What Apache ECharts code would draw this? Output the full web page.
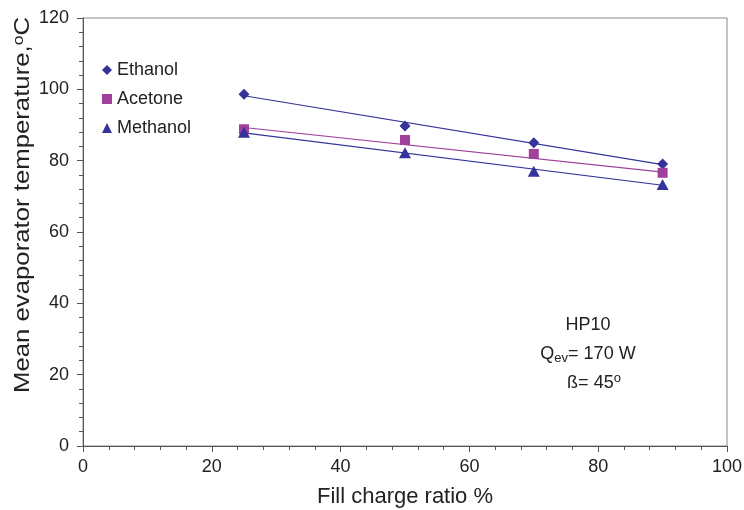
<!DOCTYPE html>
<html>
<head>
<meta charset="utf-8">
<script src="https://cdn.jsdelivr.net/npm/echarts@6/dist/echarts.min.js"></script>
<style>
  html, body { margin: 0; padding: 0; background: #fff; }
  #main { width: 744px; height: 510px; }
</style>
</head>
<body>
<div id="main"></div>
<script>
// fill charge ratio (%)
var fillRatio = [25, 50, 70, 90];
// mean evaporator temperature (°C)
var ethanol = [98.6, 89.7, 85.0, 79.1];
var acetone = [88.8, 85.8, 81.9, 76.6];
var methanol = [88.0, 82.2, 77.0, 73.3];
// trend lines, read at both ends (x = 25 and x = 90)
var trendX = [25, 90];
var ethanolTrend = [98.2, 78.9];
var acetoneTrend = [89.3, 76.8];
var methanolTrend = [87.8, 73.1];

var blue = '#333399';
var purple = '#A0409C';
var font = 'Liberation Sans, Arial, sans-serif';

function pairs(xs, ys) {
  var out = [];
  for (var i = 0; i < xs.length; i++) out.push([xs[i], ys[i]]);
  return out;
}

var chart = echarts.init(document.getElementById('main'));

var option = {
  animation: false,
  grid: {
    left: 83, right: 17, top: 18, bottom: 64,
    outerBoundsMode: 'none',
    show: true, borderColor: '#8a8a8a', borderWidth: 1
  },
  textStyle: { fontFamily: font },
  legend: {
    orient: 'vertical',
    left: 97,
    top: 56,
    itemWidth: 10,
    itemHeight: 10,
    itemGap: 11,
    textStyle: { fontSize: 18, color: '#222', fontFamily: font },
    data: ['Ethanol', 'Acetone', 'Methanol']
  },
  xAxis: {
    type: 'value',
    min: 0, max: 100, interval: 20,
    axisLine: { lineStyle: { color: '#555', width: 1 } },
    axisTick: { inside: false, length: 6, lineStyle: { color: '#555' } },
    minorTick: { show: true, splitNumber: 5, length: 4, lineStyle: { color: '#555' } },
    splitLine: { show: false },
    axisLabel: { fontSize: 18, color: '#222', margin: 12, fontFamily: font },
    name: 'Fill charge ratio %',
    nameLocation: 'middle',
    nameGap: 40,
    nameTextStyle: { fontSize: 22, color: '#222', fontFamily: font }
  },
  yAxis: {
    type: 'value',
    min: 0, max: 120, interval: 20,
    axisLine: { lineStyle: { color: '#555', width: 1 } },
    axisTick: { inside: false, length: 6, lineStyle: { color: '#555' } },
    minorTick: { show: true, splitNumber: 5, length: 4, lineStyle: { color: '#555' } },
    splitLine: { show: false },
    axisLabel: { fontSize: 18, color: '#222', margin: 14, fontFamily: font }
  },
  graphic: [
    {
      type: 'text',
      x: 23, y: 205,
      rotation: Math.PI / 2,
      scaleX: 1.17,
      style: {
        text: 'Mean evaporator temperature,{sup|o}C',
        rich: { sup: { fontSize: 15, verticalAlign: 'top', padding: [0, 0, 9, 0] } },
        font: '22px ' + font,
        fill: '#222',
        textAlign: 'center',
        textVerticalAlign: 'middle'
      }
    },
    {
      type: 'text',
      x: 588, y: 325,
      style: { text: 'HP10', font: '18px ' + font, fill: '#222', textAlign: 'center', textVerticalAlign: 'middle' }
    },
    {
      type: 'text',
      x: 588, y: 354,
      style: {
        text: 'Q{sub|ev}= 170 W',
        rich: { sub: { fontSize: 13, padding: [8, 0, 0, 0] } },
        font: '18px ' + font, fill: '#222', textAlign: 'center', textVerticalAlign: 'middle'
      }
    },
    {
      type: 'text',
      x: 594, y: 383,
      style: {
        text: 'ß= 45{sup|o}',
        rich: { sup: { fontSize: 13, padding: [0, 0, 10, 0] } },
        font: '18px ' + font, fill: '#222', textAlign: 'center', textVerticalAlign: 'middle'
      }
    }
  ],
  series: [
    { name: 'EthanolTrend', type: 'line', data: pairs(trendX, ethanolTrend), symbol: 'none', lineStyle: { color: blue, width: 1.2 }, z: 1 },
    { name: 'AcetoneTrend', type: 'line', data: pairs(trendX, acetoneTrend), symbol: 'none', lineStyle: { color: purple, width: 1.2 }, z: 1 },
    { name: 'MethanolTrend', type: 'line', data: pairs(trendX, methanolTrend), symbol: 'none', lineStyle: { color: blue, width: 1.2 }, z: 1 },
    { name: 'Ethanol', type: 'scatter', data: pairs(fillRatio, ethanol), symbol: 'diamond', symbolSize: 11, itemStyle: { color: blue, opacity: 1 }, z: 3 },
    { name: 'Acetone', type: 'scatter', data: pairs(fillRatio, acetone), symbol: 'rect', symbolSize: 10, itemStyle: { color: purple, opacity: 1 }, z: 3 },
    { name: 'Methanol', type: 'scatter', data: pairs(fillRatio, methanol), symbol: 'triangle', symbolSize: [12, 11], itemStyle: { color: blue, opacity: 1 }, z: 3 }
  ]
};

chart.setOption(option);
</script>
</body>
</html>
